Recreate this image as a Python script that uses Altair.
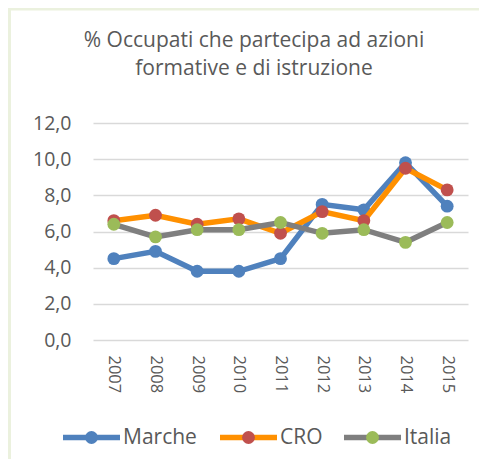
import altair as alt
import pandas as pd

# ---- data ----
years = ["2007", "2008", "2009", "2010", "2011", "2012", "2013", "2014", "2015"]
series_names = ["Marche", "CRO", "Italia"]
marche = [4.5, 4.9, 3.8, 3.8, 4.5, 7.5, 7.2, 9.8, 7.4]
cro = [6.6, 6.9, 6.4, 6.7, 5.9, 7.1, 6.6, 9.5, 8.3]
italia = [6.4, 5.7, 6.1, 6.1, 6.5, 5.9, 6.1, 5.4, 6.5]
y_ticks = [0, 2, 4, 6, 8, 10, 12]
title_lines = ["% Occupati che partecipa ad azioni", "formative e di istruzione"]

# ---- styles ----
line_colors = ["#4F81BD", "#FF9000", "#7F7F7F"]
marker_colors = ["#4F81BD", "#C0504D", "#9BBB59"]
FONT = "Open Sans"
TXT = "#595959"
W, H = 375, 217

rows = []
for name, vals in zip(series_names, [marche, cro, italia]):
    for yr, v in zip(years, vals):
        rows.append({"anno": yr, "serie": name, "valore": v})
df = pd.DataFrame(rows)
one = pd.DataFrame({"k": [0]})

x_enc = alt.X(
    "anno:O",
    scale=alt.Scale(type="point", padding=0.5, domain=years),
    axis=alt.Axis(title=None, labelAngle=90, ticks=False, domain=False, grid=False,
                  labelPadding=15, labelFontSize=16.5, labelFont=FONT, labelColor=TXT),
)
y_enc = alt.Y(
    "valore:Q",
    scale=alt.Scale(domain=[0, 12], nice=False, zero=True),
    axis=alt.Axis(title=None, values=y_ticks,
                  labelExpr="replace(format(datum.value, '.1f'), '.', ',')",
                  grid=True, gridColor="#D9D9D9", gridWidth=1.5,
                  ticks=False, domain=False, labelPadding=22,
                  labelFontSize=19.5, labelFont=FONT, labelColor=TXT),
)

layers = []

# green frame strips (left / top)
layers.append(alt.Chart(one).mark_rect(color="#EBF1DE").encode(
    x=alt.value(-85), x2=alt.value(-82), y=alt.value(-116), y2=alt.value(340)))
layers.append(alt.Chart(one).mark_rect(color="#EBF1DE").encode(
    x=alt.value(-85), x2=alt.value(390), y=alt.value(-116), y2=alt.value(-112.5)))

for name, lc, mc in zip(series_names, line_colors, marker_colors):
    base = alt.Chart(df).transform_filter(alt.datum.serie == name)
    layers.append(base.mark_line(color=lc, strokeWidth=5.5).encode(x=x_enc, y=y_enc))
    layers.append(base.mark_point(filled=True, shape="circle", size=165, color=mc,
                                  opacity=1).encode(x=x_enc, y=y_enc))

# legend (manual, to reproduce line+marker symbols)
leg_y = 314.5
leg_x = [-30, 127, 251]
for name, lc, mc, lx in zip(series_names, line_colors, marker_colors, leg_x):
    layers.append(alt.Chart(one).mark_rule(color=lc, strokeWidth=5.5).encode(
        x=alt.value(lx), x2=alt.value(lx + 57), y=alt.value(leg_y)))
    layers.append(alt.Chart(one).mark_point(filled=True, shape="circle", size=165,
                                            color=mc, opacity=1).encode(
        x=alt.value(lx + 28.5), y=alt.value(leg_y)))
    layers.append(alt.Chart(one).mark_text(align="left", baseline="middle", fontSize=21,
                                           font=FONT, color=TXT, text=name).encode(
        x=alt.value(lx + 60), y=alt.value(leg_y)))

# title
for line, ty in zip(title_lines, [-76.5, -48.5]):
    layers.append(alt.Chart(one).mark_text(align="center", baseline="alphabetic",
                                           fontSize=21, font=FONT, color=TXT,
                                           text=line).encode(
        x=alt.value(161), y=alt.value(ty)))

chart = alt.layer(*layers).properties(
    width=W, height=H,
    autosize=alt.AutoSizeParams(type="none"),
    padding={"left": 85, "top": 115, "right": 11, "bottom": 119},
    background="white",
).configure_view(stroke=None)

chart.save("out.html", embed_options={"renderer": "svg", "actions": False})
